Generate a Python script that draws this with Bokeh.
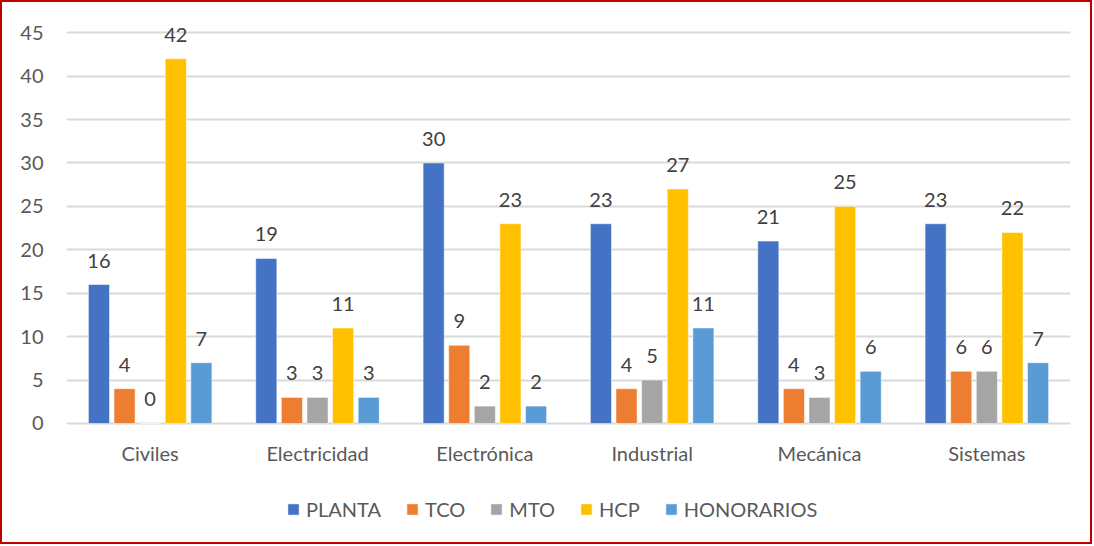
from bokeh.plotting import figure
from bokeh.models import ColumnDataSource, FactorRange, Legend, LegendItem, FixedTicker
from bokeh.transform import dodge
from bokeh.core.properties import value
from bokeh.embed import file_html
from bokeh.resources import INLINE

categories = ["Civiles", "Electricidad", "Electrónica", "Industrial", "Mecánica", "Sistemas"]
series = ["PLANTA", "TCO", "MTO", "HCP", "HONORARIOS"]
planta = [16, 19, 30, 23, 21, 23]
tco = [4, 3, 9, 4, 4, 6]
mto = [0, 3, 2, 5, 3, 6]
hcp = [42, 11, 23, 27, 25, 22]
honorarios = [7, 3, 2, 11, 6, 7]
y_ticks = [0, 5, 10, 15, 20, 25, 30, 35, 40, 45]
colors = ["#4472C4", "#ED7D31", "#A5A5A5", "#FFC000", "#5B9BD5"]

FONT = "Lato"
FS = "20px"
values = [planta, tco, mto, hcp, honorarios]
data = {"cat": categories, "base": [0] * len(categories)}
for name, vals in zip(series, values):
    data[name] = vals
    data[name + "_lbl"] = [str(v) for v in vals]
source = ColumnDataSource(data)

p = figure(x_range=FactorRange(*categories), y_range=(-14.17, 48.48),
           width=1092, height=544, x_axis_location=None,
           output_backend="svg", toolbar_location=None,
           min_border_left=64, min_border_right=24, min_border_top=0, min_border_bottom=0)
p.outline_line_color = None
p.styles = {"border": "2px solid #C00000", "box-sizing": "border-box"}

step = 0.153
bw = 0.126
items = []
for i, (name, col) in enumerate(zip(series, colors)):
    off = (i - 2) * step
    r = p.vbar(x=dodge("cat", off, range=p.x_range), top=name, width=bw, source=source,
               fill_color=col, line_color="white", line_width=0.5)
    p.text(x=dodge("cat", off, range=p.x_range), y=name, text=name + "_lbl", source=source,
           text_align="center", text_baseline="alphabetic", y_offset=-24,
           text_font=value(FONT), text_font_size=FS, text_color="#404040")
    items.append(LegendItem(label=name, renderers=[r]))

# category labels under the baseline
p.text(x="cat", y="base", text="cat", source=source, text_align="center",
       text_baseline="middle", y_offset=30, text_font=value(FONT), text_font_size=FS,
       text_color="#595959")

p.yaxis.ticker = FixedTicker(ticks=y_ticks)
p.yaxis.axis_line_color = None
p.yaxis.major_tick_line_color = None
p.yaxis.minor_tick_line_color = None
p.yaxis.major_label_text_font = FONT
p.yaxis.major_label_text_font_size = FS
p.yaxis.major_label_text_color = "#595959"
p.yaxis.major_label_standoff = 17

p.xgrid.grid_line_color = None
p.ygrid.grid_line_color = "#D9D9D9"
p.ygrid.grid_line_width = 2

legend = Legend(items=items, orientation="horizontal", location=(220, 25),
                label_text_font=FONT, label_text_font_size=FS, label_text_color="#595959",
                glyph_width=14, glyph_height=14, label_standoff=6, spacing=24,
                border_line_color=None, background_fill_alpha=0, margin=0, padding=0)
p.add_layout(legend, "center")

open("out.html", "w").write(file_html(p, INLINE))
